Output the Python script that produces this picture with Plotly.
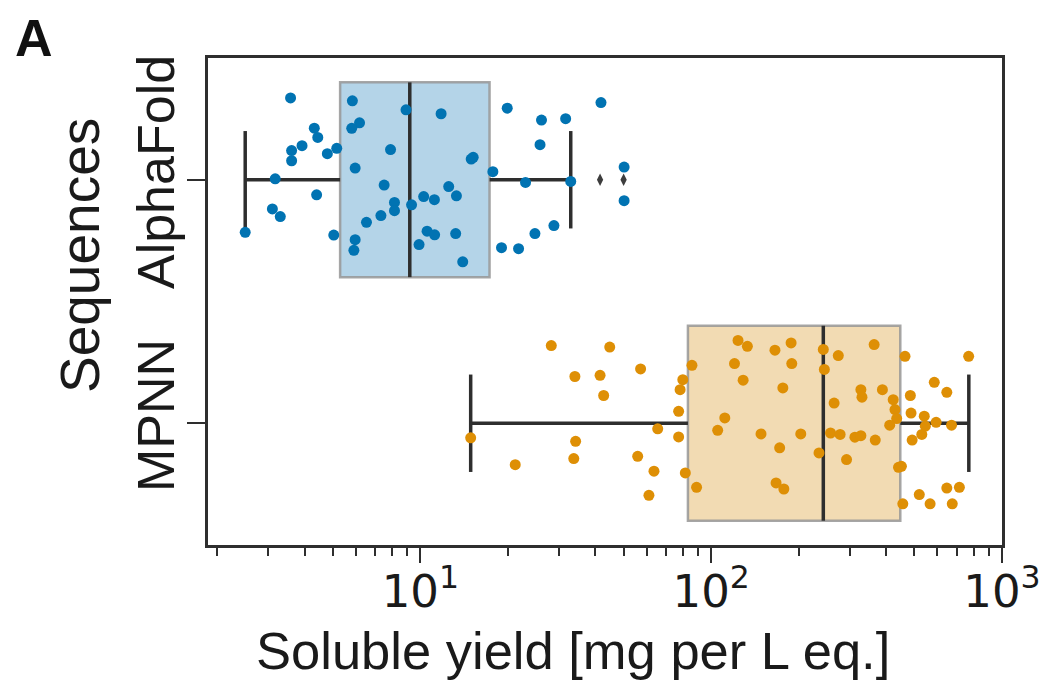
import plotly.graph_objects as go

# ---------------- data ----------------
categories = ["AlphaFold", "MPNN"]

alphafold_yield = [3.58, 5.84, 8.93, 11.79, 19.9, 41.8, 26.1, 31.6, 6.18, 5.81,
                   4.32, 4.44, 3.92, 3.61, 3.61, 4.79, 5.16, 7.90, 25.8, 14.96,
                   15.2, 5.97, 17.76, 50.2, 3.17, 23.0, 32.9, 7.51, 4.40, 12.52,
                   13.31, 10.27, 11.18, 8.15, 8.15, 9.33, 7.32, 6.53, 50.2, 3.10,
                   3.30, 2.50, 5.04, 5.97, 5.91, 10.55, 11.20, 13.23, 9.90, 13.99,
                   19.02, 21.77, 24.78, 28.8]
alphafold_jitter = [-0.336, -0.324, -0.287, -0.271, -0.294, -0.317, -0.245, -0.251, -0.234, -0.211,
                    -0.212, -0.174, -0.140, -0.120, -0.078, -0.107, -0.129, -0.124, -0.144, -0.085,
                    -0.092, -0.048, -0.033, -0.052, -0.004, 0.011, 0.007, 0.022, 0.062, 0.028,
                    0.066, 0.069, 0.082, 0.093, 0.127, 0.103, 0.147, 0.175, 0.086, 0.120,
                    0.151, 0.216, 0.227, 0.246, 0.290, 0.211, 0.226, 0.221, 0.266, 0.337,
                    0.279, 0.283, 0.221, 0.188]

mpnn_yield = [28.2, 44.8, 123.7, 133.2, 165.7, 188.3, 243.0, 273.6, 363.4, 464.0,
              768.0, 85.9, 120.3, 189.3, 245.0, 57.2, 34.0, 41.5, 42.7, 79.9,
              78.2, 128.8, 176.4, 327.2, 330.0, 388.0, 422.6, 428.6, 484.0, 585.0,
              646.0, 264.7, 77.3, 434.4, 411.0, 486.7, 540.4, 545.0, 593.5, 670.7,
              530.0, 491.0, 111.4, 105.3, 65.5, 14.9, 34.2, 33.7, 77.3, 148.4,
              203.3, 257.3, 277.6, 312.0, 327.2, 366.6, 172.0, 234.9, 292.1, 21.2,
              55.9, 63.6, 81.5, 61.1, 89.1, 167.2, 177.8, 440.7, 451.0, 456.0,
              519.5, 566.0, 646.0, 713.6, 674.5]
mpnn_jitter = [-0.319, -0.313, -0.340, -0.316, -0.300, -0.330, -0.303, -0.278, -0.323, -0.275,
               -0.275, -0.238, -0.245, -0.245, -0.221, -0.223, -0.192, -0.197, -0.114, -0.179,
               -0.138, -0.177, -0.145, -0.138, -0.107, -0.138, -0.097, -0.056, -0.114, -0.168,
               -0.127, -0.083, -0.049, -0.019, 0.008, -0.042, -0.029, 0.012, -0.004, 0.008,
               0.046, 0.069, -0.022, 0.029, 0.023, 0.060, 0.074, 0.145, 0.056, 0.044,
               0.044, 0.040, 0.046, 0.057, 0.051, 0.069, 0.101, 0.122, 0.149, 0.170,
               0.136, 0.197, 0.204, 0.296, 0.263, 0.245, 0.270, 0.181, 0.177, 0.331,
               0.293, 0.331, 0.266, 0.263, 0.331]

# box statistics (q1, median, q3, whisker ends) and fliers
box_q1 = [5.3, 83.2]
box_median = [9.2, 243.0]
box_q3 = [17.3, 447.0]
box_low = [2.5, 14.9]
box_high = [32.9, 769.0]
fliers = [[41.5, 50.0], []]

x_tickvals = [10, 100, 1000]
x_ticktext = ["10<sup>1</sup>", "10<sup>2</sup>", "10<sup>3</sup>"]

# ---------------- styling ----------------
point_colors = ["#0173b2", "#de8f05"]
box_fills = ["#b4d4e8", "#f2dbb3"]
dark = "#2e2e2e"
axis_font = "Liberation Sans, Arial, sans-serif"

fig = go.Figure()

# boxes
for i, cat in enumerate(categories):
    fig.add_trace(go.Box(
        orientation="h", y=[i], q1=[box_q1[i]], median=[box_median[i]], q3=[box_q3[i]],
        lowerfence=[box_low[i]], upperfence=[box_high[i]],
        fillcolor=box_fills[i], line=dict(color="rgba(150,150,150,0.85)", width=2.5),
        width=0.8, whiskerwidth=0, boxpoints=False, showlegend=False, hoverinfo="skip",
    ))

# whiskers, caps and medians in dark grey
for i, cat in enumerate(categories):
    wx = [box_low[i], box_q1[i], None, box_q3[i], box_high[i], None,
          box_low[i], box_low[i], None, box_high[i], box_high[i], None,
          box_median[i], box_median[i]]
    wy = [i, i, None, i, i, None,
          i - 0.2, i + 0.2, None, i - 0.2, i + 0.2, None,
          i - 0.4, i + 0.4]
    fig.add_trace(go.Scatter(x=wx, y=wy, mode="lines",
                             line=dict(color=dark, width=3.5),
                             showlegend=False, hoverinfo="skip"))
    if fliers[i]:
        fig.add_trace(go.Scatter(x=fliers[i], y=[i] * len(fliers[i]), mode="markers",
                                 marker=dict(symbol="diamond-tall", size=9, color="#3d3d3d"),
                                 showlegend=False, hoverinfo="skip"))

# jittered points
series = [(alphafold_yield, alphafold_jitter), (mpnn_yield, mpnn_jitter)]
for i, (vals, jit) in enumerate(series):
    fig.add_trace(go.Scatter(
        x=vals, y=[i + j for j in jit], mode="markers",
        marker=dict(size=11, color=point_colors[i], line=dict(width=0)),
        name=categories[i], showlegend=False,
    ))

# page body has an 8 px margin: figure sized/placed to compensate
fig.update_layout(
    width=1045, height=681,
    margin=dict(l=200, r=51, t=50, b=144, pad=0, autoexpand=False),
    paper_bgcolor="white", plot_bgcolor="white",
    font=dict(family=axis_font, color="#1a1a1a"),
    xaxis=dict(
        type="log", range=[0.27, 3.0], automargin=False,
        tickvals=x_tickvals, ticktext=x_ticktext,
        ticks="outside", ticklen=15, tickwidth=2, tickcolor=dark,
        ticklabelstandoff=-10,
        minor=dict(ticks="outside", ticklen=8, tickwidth=1.6, tickcolor=dark, dtick="D1"),
        showgrid=False, zeroline=False,
        showline=True, linecolor=dark, linewidth=2.5, mirror=True,
        tickfont=dict(family="DejaVu Sans", size=45, color="#1a1a1a"),
    ),
    yaxis=dict(
        range=[1.5, -0.5], tickvals=[0, 1], ticktext=categories, automargin=False,
        tickangle=-90, ticks="outside", ticklen=18, tickwidth=2, tickcolor=dark,
        ticklabelstandoff=-8,
        showgrid=False, zeroline=False,
        showline=True, linecolor=dark, linewidth=2.5, mirror=True,
        tickfont=dict(family=axis_font, size=52, color="#1a1a1a"),
    ),
    annotations=[
        dict(text="<b>A</b>", xref="paper", yref="paper", x=(13 - 208) / 794, y=1 - (38 - 58) / 487,
             xanchor="left", yanchor="middle", showarrow=False,
             font=dict(family="Liberation Sans Narrow, Arial Narrow, Liberation Sans", size=52, color="#111")),
        dict(text="Soluble yield [mg per L eq.]", xref="paper", yref="paper",
             x=(573 - 208) / 794, y=1 - (650 - 58) / 487, xanchor="center", yanchor="middle",
             showarrow=False, font=dict(family=axis_font, size=52.5, color="#1a1a1a")),
        dict(text="Sequences", xref="paper", yref="paper", textangle=-90,
             x=(80 - 208) / 794, y=1 - (256 - 58) / 487, xanchor="center", yanchor="middle",
             showarrow=False, font=dict(family=axis_font, size=55, color="#1a1a1a")),
    ],
)

fig.write_html("out.html")
